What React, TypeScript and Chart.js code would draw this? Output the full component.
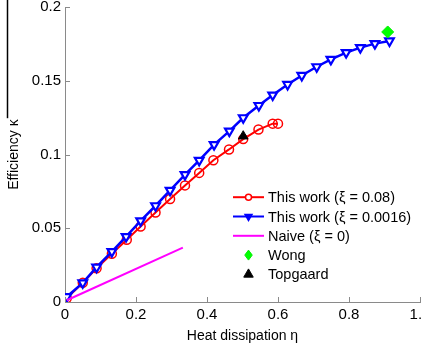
import React, { useEffect, useRef } from "react";
import { Chart, registerables } from "chart.js";

Chart.register(...registerables);

// ---- data ----
const etaRed = [0.005, 0.05, 0.089, 0.132, 0.174, 0.213, 0.255, 0.296, 0.338, 0.378, 0.418, 0.462, 0.502, 0.545, 0.585, 0.6];
const kappaRed = [0.0025, 0.013, 0.0229, 0.0327, 0.0422, 0.0512, 0.0607, 0.0699, 0.0791, 0.0876, 0.0962, 0.1035, 0.1105, 0.117, 0.121, 0.121];

const etaBlue = [0.005, 0.05, 0.089, 0.132, 0.172, 0.213, 0.255, 0.296, 0.338, 0.378, 0.42, 0.463, 0.502, 0.546, 0.585, 0.627, 0.667, 0.709, 0.749, 0.792, 0.832, 0.873, 0.914];
const kappaBlue = [0.0036, 0.013, 0.0236, 0.0342, 0.0444, 0.0551, 0.0653, 0.0757, 0.0864, 0.0961, 0.1068, 0.1159, 0.125, 0.1333, 0.1404, 0.1476, 0.1537, 0.1596, 0.1646, 0.1692, 0.1726, 0.1753, 0.1771];

const etaNaive = [0.005, 0.332];
const kappaNaive = [0.0012, 0.0369];

const etaWong = [0.909];
const kappaWong = [0.1832];

const etaTopgaard = [0.502];
const kappaTopgaard = [0.1125];

const seriesLabels = [
  "This work (\u03BE = 0.08)",
  "This work (\u03BE = 0.0016)",
  "Naive (\u03BE = 0)",
  "Wong",
  "Topgaard",
];

const xTitle = "Heat dissipation \u03B7";
const yTitle = "Efficiency \u03BA";

const FONT = "'Liberation Sans', Arial, sans-serif";
const AXIS_GRAY = "#8a8a8a";

const toXY = (xs: number[], ys: number[]) => xs.map((x, i) => ({ x, y: ys[i] }));

type Marker = "circle" | "tridown" | "diamond" | "triup" | "none";

function drawMarker(ctx: CanvasRenderingContext2D, kind: Marker, x: number, y: number, r: number, stroke: string, fill: string, lw: number) {
  ctx.save();
  ctx.lineWidth = lw;
  ctx.strokeStyle = stroke;
  ctx.fillStyle = fill;
  ctx.beginPath();
  if (kind === "circle") {
    ctx.arc(x, y, r, 0, Math.PI * 2);
  } else if (kind === "tridown") {
    ctx.moveTo(x - r * 0.866, y - r * 0.5);
    ctx.lineTo(x + r * 0.866, y - r * 0.5);
    ctx.lineTo(x, y + r);
    ctx.closePath();
  } else if (kind === "triup") {
    ctx.moveTo(x - r * 0.866, y + r * 0.5);
    ctx.lineTo(x + r * 0.866, y + r * 0.5);
    ctx.lineTo(x, y - r);
    ctx.closePath();
  } else if (kind === "diamond") {
    ctx.moveTo(x, y - r);
    ctx.lineTo(x + r * 0.75, y);
    ctx.lineTo(x, y + r);
    ctx.lineTo(x - r * 0.75, y);
    ctx.closePath();
  }
  if (kind !== "none") {
    ctx.fill();
    ctx.stroke();
  }
  ctx.restore();
}

const legendItems: { line: string | null; lw: number; marker: Marker; stroke: string; fill: string; r: number; mlw: number }[] = [
  { line: "#ff0000", lw: 2, marker: "circle", stroke: "#ff0000", fill: "#ffffff", r: 3, mlw: 1.5 },
  { line: "#0000ff", lw: 2, marker: "tridown", stroke: "#0000ff", fill: "#0000ff", r: 4, mlw: 1.5 },
  { line: "#ff00ff", lw: 2, marker: "none", stroke: "#ff00ff", fill: "#ff00ff", r: 0, mlw: 1 },
  { line: null, lw: 0, marker: "diamond", stroke: "#00ee00", fill: "#00ff00", r: 5, mlw: 1 },
  { line: null, lw: 0, marker: "triup", stroke: "#000000", fill: "#000000", r: 5.5, mlw: 1 },
];

const decorPlugin = {
  id: "decor",
  afterDraw(chart: any) {
    const ctx: CanvasRenderingContext2D = chart.ctx;
    const area = chart.chartArea;
    const xs = chart.scales.x;
    const ys = chart.scales.y;
    ctx.save();
    // inward tick marks
    ctx.strokeStyle = AXIS_GRAY;
    ctx.lineWidth = 1;
    ctx.beginPath();
    xs.ticks.forEach((t: any) => {
      const px = Math.round(xs.getPixelForValue(t.value)) + 0.5;
      ctx.moveTo(px, area.bottom);
      ctx.lineTo(px, area.bottom - 5);
    });
    ys.ticks.forEach((t: any) => {
      const py = Math.round(ys.getPixelForValue(t.value)) + 0.5;
      ctx.moveTo(area.left, py);
      ctx.lineTo(area.left + 5, py);
    });
    ctx.stroke();

    // stray black line at the far left
    ctx.strokeStyle = "#000000";
    ctx.lineWidth = 1.5;
    ctx.beginPath();
    ctx.moveTo(7.5, 0);
    ctx.lineTo(7.5, area.top + 111);
    ctx.stroke();

    // legend
    const lx0 = area.left + 168;
    const lx1 = area.left + 199;
    const mx = (lx0 + lx1) / 2;
    const tx = area.left + 203;
    let ly = area.top + 190;
    ctx.font = `14.5px ${FONT}`;
    ctx.textBaseline = "middle";
    ctx.textAlign = "left";
    legendItems.forEach((it, i) => {
      if (it.line) {
        ctx.strokeStyle = it.line;
        ctx.lineWidth = it.lw;
        ctx.beginPath();
        ctx.moveTo(lx0, ly);
        ctx.lineTo(lx1, ly);
        ctx.stroke();
      }
      drawMarker(ctx, it.marker, mx, ly, it.r, it.stroke, it.fill, it.mlw);
      ctx.fillStyle = "#000000";
      ctx.fillText(seriesLabels[i], tx, ly + 1);
      ly += 19.3;
    });
    ctx.restore();
  },
};

export default function App() {
  const ref = useRef<HTMLCanvasElement | null>(null);

  useEffect(() => {
    if (!ref.current) return;
    const chart = new Chart(ref.current, {
      type: "scatter",
      data: {
        datasets: [
          {
            label: seriesLabels[0],
            data: toXY(etaRed, kappaRed),
            showLine: true,
            borderColor: "#ff0000",
            borderWidth: 2,
            pointStyle: "circle",
            pointRadius: 4.5,
            pointBorderWidth: 1.5,
            pointBorderColor: "#ff0000",
            pointBackgroundColor: "rgba(255,255,255,0)",
            order: 5,
          },
          {
            label: seriesLabels[1],
            data: toXY(etaBlue, kappaBlue),
            showLine: true,
            borderColor: "#0000ff",
            borderWidth: 2.5,
            pointStyle: "triangle",
            pointRotation: 180,
            pointRadius: 5,
            pointBorderWidth: 2.2,
            pointBorderColor: "#0000ff",
            pointBackgroundColor: "#ffffff",
            order: 4,
          },
          {
            label: seriesLabels[2],
            data: toXY(etaNaive, kappaNaive),
            showLine: true,
            borderColor: "#ff00ff",
            borderWidth: 2,
            pointRadius: 0,
            order: 3,
          },
          {
            label: seriesLabels[3],
            data: toXY(etaWong, kappaWong),
            showLine: false,
            pointStyle: "rectRot",
            pointRadius: 6,
            pointBorderWidth: 1,
            pointBorderColor: "#00ee00",
            pointBackgroundColor: "#00ff00",
            order: 2,
          },
          {
            label: seriesLabels[4],
            data: toXY(etaTopgaard, kappaTopgaard),
            showLine: false,
            pointStyle: "triangle",
            pointRadius: 5.5,
            pointBorderWidth: 1,
            pointBorderColor: "#000000",
            pointBackgroundColor: "#000000",
            order: 1,
          },
        ],
      },
      options: {
        animation: false,
        responsive: false,
        maintainAspectRatio: false,
        events: [],
        layout: { padding: { top: 7, right: 20, left: 0, bottom: 0 } },
        plugins: {
          legend: { display: false },
          tooltip: { enabled: false },
        },
        scales: {
          x: {
            type: "linear",
            min: 0,
            max: 1,
            afterFit: (s: any) => {
              s.height = 43;
              s.paddingLeft = 0;
              s.paddingRight = 0;
            },
            ticks: {
              stepSize: 0.2,
              color: "#000000",
              padding: 4,
              maxRotation: 0,
              font: { family: FONT, size: 15 },
            },
            grid: { display: false, drawTicks: false },
            border: { display: true, color: AXIS_GRAY, width: 1 },
            title: {
              display: true,
              text: xTitle,
              color: "#000000",
              font: { family: FONT, size: 14 },
              padding: { top: 0, bottom: 0 },
            },
          },
          y: {
            type: "linear",
            min: 0,
            max: 0.2,
            afterFit: (s: any) => {
              s.width = 65;
              s.paddingTop = 0;
              s.paddingBottom = 0;
            },
            ticks: {
              stepSize: 0.05,
              color: "#000000",
              padding: 4,
              font: { family: FONT, size: 15 },
              callback: (v: any) => String(Math.round(Number(v) * 100) / 100),
            },
            grid: { display: false, drawTicks: false },
            border: { display: true, color: AXIS_GRAY, width: 1 },
            title: {
              display: true,
              text: yTitle,
              color: "#000000",
              font: { family: FONT, size: 14 },
              padding: { top: 6, bottom: 0 },
            },
          },
        },
      },
      plugins: [decorPlugin],
    });
    return () => chart.destroy();
  }, []);

  return (
    <div style={{ position: "fixed", left: 0, top: 0, width: 422, height: 345, overflow: "hidden", background: "#ffffff" }}>
      <canvas ref={ref} width={440} height={345} style={{ display: "block" }} />
    </div>
  );
}
